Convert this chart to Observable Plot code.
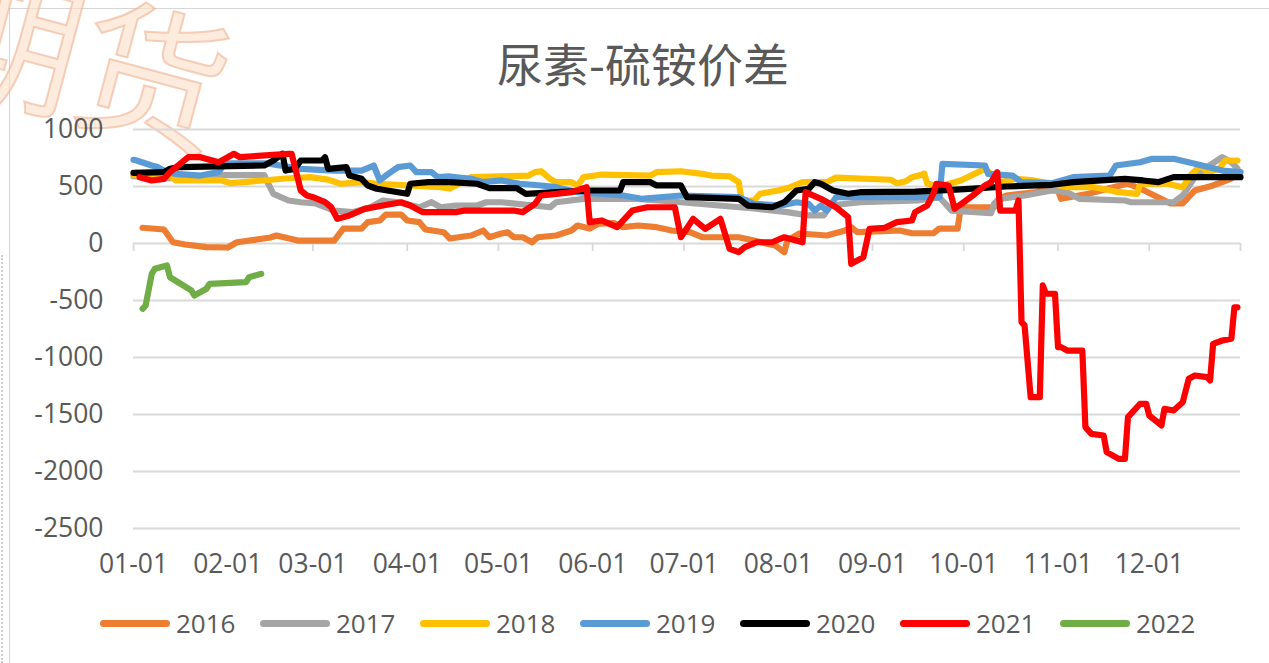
<!DOCTYPE html>
<html><head><meta charset="utf-8">
<script src="https://cdn.jsdelivr.net/npm/d3@7"></script>
<script src="https://cdn.jsdelivr.net/npm/@observablehq/plot@0.6"></script>
<style>
html,body{margin:0;padding:0;background:#fff;}
body{width:1269px;height:663px;position:relative;overflow:hidden;font-family:"Open Sans",sans-serif;color:#595959;}
#frame{position:absolute;left:9px;top:8px;right:-2px;bottom:-2px;border-left:1px solid #d6d6d6;border-top:1px solid #d6d6d6;}
#dots{position:absolute;left:1px;top:255px;bottom:0;border-left:2px dotted #cfcfcf;}
#wm{position:absolute;left:-43px;top:-62px;font:150px/150px "Noto Sans CJK SC";color:rgba(251,222,200,0.6);-webkit-text-stroke:2px rgba(238,178,145,0.6);transform:rotate(15deg);transform-origin:0 0;white-space:nowrap;}
#title{position:absolute;left:0;top:39px;width:1286px;text-align:center;font:46px/46px "Noto Sans CJK SC";color:#595959;}
#chart{position:absolute;left:0;top:110px;}
#legend{position:absolute;left:100px;top:606px;display:flex;font-size:26px;line-height:34px;}
.item{width:160px;display:flex;align-items:center;}
.sw{width:70px;height:7px;border-radius:4px;margin-right:6px;}
</style></head>
<body>
<div id="frame"></div>
<div id="dots"></div>
<div id="wm">期货</div>
<div id="title">尿素-硫铵价差</div>
<div id="chart"></div>
<div id="legend"></div>
<script>
const years = ["2016","2017","2018","2019","2020","2021","2022"];
const colors = ["#ED7D31","#A5A5A5","#FFC000","#5B9BD5","#000000","#FF0000","#70AD47"];
const monthTicks = ["01-01","02-01","03-01","04-01","05-01","06-01","07-01","08-01","09-01","10-01","11-01","12-01"];
const yTicks = [1000,500,0,-500,-1000,-1500,-2000,-2500];

const s2016 = [["01-04",138],["01-11",123],["01-14",11],["01-18",-9],["01-25",-32],["02-01",-35],["02-04",11],["02-15",53],["02-17",70],["02-24",26],["03-08",26],["03-11",131],["03-17",131],["03-19",187],["03-23",202],["03-25",254],["03-30",254],["04-01",202],["04-05",187],["04-07",123],["04-13",99],["04-15",44],["04-22",70],["04-26",114],["04-28",55],["05-02",88],["05-04",99],["05-06",55],["05-09",55],["05-12",11],["05-14",55],["05-20",70],["05-25",114],["05-27",158],["05-31",131],["06-03",175],["06-08",178],["06-11",143],["06-16",158],["06-22",143],["06-27",114],["07-03",99],["07-07",55],["07-19",55],["07-24",26],["07-31",-18],["08-03",-76],["08-04",26],["08-08",88],["08-17",70],["08-23",114],["08-25",143],["08-27",99],["09-10",114],["09-14",90],["09-21",90],["09-23",131],["09-29",131],["09-30",318],["10-11",318],["10-12",377],["10-15",421],["10-25",450],["10-28",494],["11-01",465],["11-02",392],["11-11",436],["11-24",526],["11-28",482],["12-08",351],["12-12",351],["12-16",465],["12-22",509],["12-28",570],["12-30",614]];
const s2017 = [["01-01",590],["01-12",570],["01-31",600],["02-13",600],["02-14",540],["02-16",436],["02-21",377],["02-25",362],["03-02",351],["03-08",289],["03-14",275],["03-20",318],["03-24",377],["03-29",362],["04-05",318],["04-09",362],["04-12",318],["04-17",333],["04-24",333],["04-27",362],["05-02",362],["05-18",318],["05-20",362],["05-29",392],["06-16",392],["06-30",362],["07-24",307],["08-04",275],["08-11",246],["08-16",246],["08-18",333],["08-28",362],["09-16",377],["09-23",406],["09-27",289],["10-10",266],["10-11",351],["10-13",392],["10-21",421],["10-30",465],["11-04",450],["11-08",392],["11-23",377],["11-25",362],["12-09",362],["12-12",421],["12-16",582],["12-20",670],["12-25",757],["12-28",713],["12-30",657]];
const s2018 = [["01-01",600],["01-13",590],["01-15",553],["01-30",553],["02-02",529],["02-07",540],["02-20",570],["02-28",582],["03-06",560],["03-10",524],["03-17",538],["03-22",524],["04-12",494],["04-15",482],["04-22",582],["05-11",596],["05-13",626],["05-15",634],["05-18",567],["05-20",538],["05-25",538],["05-27",509],["05-29",582],["06-04",605],["06-20",596],["06-22",626],["06-30",634],["07-07",611],["07-10",596],["07-16",588],["07-19",538],["07-20",377],["07-24",377],["07-26",436],["08-01",465],["08-05",494],["08-09",538],["08-17",538],["08-20",578],["09-07",559],["09-09",529],["09-12",546],["09-14",582],["09-17",602],["09-18",614],["09-19",526],["09-23",500],["09-30",553],["10-08",655],["10-13",538],["10-18",567],["10-24",553],["10-29",529],["11-04",494],["11-13",494],["11-21",450],["11-27",436],["11-28",524],["12-07",524],["12-12",494],["12-15",611],["12-18",684],["12-20",626],["12-24",655],["12-26",728],["12-30",728]];
const s2019 = [["01-01",734],["01-02",728],["01-07",684],["01-09",670],["01-12",626],["01-15",611],["01-23",596],["01-29",626],["01-31",702],["02-14",702],["02-25",655],["03-08",640],["03-17",640],["03-21",684],["03-23",553],["03-25",596],["03-29",670],["04-02",684],["04-04",626],["04-09",626],["04-11",582],["04-15",588],["04-22",567],["04-26",538],["05-02",553],["05-08",524],["05-15",509],["05-20",494],["05-27",450],["06-11",421],["06-17",392],["06-30",421],["07-19",406],["07-24",348],["08-02",333],["08-07",362],["08-11",348],["08-13",289],["08-15",333],["08-17",289],["08-20",406],["09-10",406],["09-23",406],["09-24",699],["10-08",684],["10-09",611],["10-17",596],["10-20",538],["10-30",529],["11-06",582],["11-18",596],["11-20",684],["11-28",713],["12-02",743],["12-09",743],["12-16",699],["12-25",640],["12-31",626]];
const s2020 = [["01-01",620],["01-11",626],["01-13",655],["01-16",670],["02-13",684],["02-16",728],["02-19",787],["02-20",640],["02-23",655],["02-25",728],["03-04",728],["03-05",757],["03-06",655],["03-12",670],["03-13",596],["03-17",567],["03-19",509],["03-22",480],["03-29",450],["04-01",436],["04-02",524],["04-08",538],["04-15",538],["04-24",524],["04-28",485],["05-07",485],["05-10",436],["05-20",450],["05-31",465],["06-10",465],["06-11",538],["06-20",538],["06-22",509],["06-30",509],["07-02",406],["07-19",392],["07-22",333],["07-30",318],["08-03",362],["08-07",465],["08-11",480],["08-13",538],["08-15",524],["08-19",465],["08-24",436],["08-28",450],["09-15",455],["09-30",475],["10-15",500],["10-30",515],["11-06",538],["11-23",567],["11-29",553],["12-04",538],["12-09",582],["12-31",582]];
const s2021 = [["01-03",582],["01-07",553],["01-11",567],["01-13",626],["01-19",757],["01-23",757],["01-29",713],["02-01",757],["02-03",787],["02-05",757],["02-21",787],["02-22",787],["02-25",465],["02-27",421],["03-01",406],["03-05",362],["03-07",318],["03-09",216],["03-13",246],["03-18",304],["03-24",333],["03-30",362],["04-02",333],["04-06",275],["04-17",275],["04-20",289],["05-06",289],["05-09",275],["05-13",348],["05-15",421],["05-20",436],["05-25",450],["05-30",494],["05-31",187],["06-04",202],["06-09",143],["06-14",289],["06-19",318],["06-28",318],["06-30",55],["07-04",216],["07-08",129],["07-13",216],["07-16",-47],["07-19",-76],["07-21",-32],["07-25",11],["07-30",11],["08-03",55],["08-09",11],["08-10",450],["08-15",392],["08-20",318],["08-24",231],["08-25",-178],["08-29",-120],["08-31",129],["09-05",138],["09-09",187],["09-14",202],["09-15",275],["09-19",333],["09-21",436],["09-22",524],["09-26",509],["09-28",304],["10-04",421],["10-08",509],["10-10",538],["10-12",626],["10-13",289],["10-18",289],["10-19",377],["10-20",-690],["10-21",-719],["10-23",-1348],["10-26",-1348],["10-27",-368],["10-28",-441],["10-31",-441],["11-01",-909],["11-02",-909],["11-04",-939],["11-09",-939],["11-10",-1611],["11-12",-1670],["11-16",-1684],["11-17",-1830],["11-21",-1889],["11-23",-1889],["11-24",-1523],["11-28",-1406],["11-30",-1406],["12-01",-1509],["12-05",-1596],["12-06",-1450],["12-09",-1465],["12-12",-1392],["12-14",-1187],["12-16",-1158],["12-20",-1172],["12-21",-1202],["12-22",-880],["12-25",-851],["12-28",-836],["12-29",-559],["12-30",-559]];
const s2022 = [["01-04",-573],["01-05",-544],["01-07",-266],["01-08",-222],["01-12",-193],["01-13",-296],["01-20",-412],["01-21",-456],["01-25",-397],["01-26",-354],["02-07",-339],["02-08",-296],["02-12",-266]];

const seriesList = [s2016, s2017, s2018, s2019, s2020, s2021, s2022];
const parseMD = s => { const [m, d] = s.split("-").map(Number); return new Date(Date.UTC(2021, m - 1, d)); };

const rows = [];
seriesList.forEach((s, i) => s.forEach(([md, v]) => rows.push({year: years[i], date: parseMD(md), value: v})));

const labelDates = monthTicks.map(parseMD);
const tickDates = labelDates.concat([parseMD("12-31")]);

const chart = Plot.plot({
  width: 1269, height: 480,
  marginLeft: 133, marginRight: 29, marginTop: 19, marginBottom: 62,
  style: {fontFamily: '"Open Sans", sans-serif', fontSize: "26.5px", color: "#595959", background: "transparent", overflow: "visible"},
  x: {type: "utc", domain: [parseMD("01-01"), parseMD("12-31")], label: null},
  y: {domain: [-2500, 1000], label: null},
  color: {domain: years, range: colors},
  marks: [
    Plot.gridY(yTicks, {stroke: "#d9d9d9", strokeOpacity: 1, strokeWidth: 1.8}),
    Plot.ruleX(tickDates, {x: d => d, y1: 0, y2: -70, stroke: "#d9d9d9", strokeWidth: 1.8}),
    Plot.axisY(yTicks, {tickSize: 0, tickPadding: 30, tickFormat: d => String(d), label: null}),
    Plot.axisX(labelDates, {tickSize: 0, tickPadding: 26, tickFormat: d3.utcFormat("%m-%d"), label: null}),
    Plot.line(rows, {x: "date", y: "value", z: "year", stroke: "year", strokeWidth: 6.2, strokeLinejoin: "round", strokeLinecap: "round"})
  ]
});
document.getElementById("chart").appendChild(chart);

const legend = document.getElementById("legend");
years.forEach((y, i) => {
  const it = document.createElement("div"); it.className = "item";
  const sw = document.createElement("div"); sw.className = "sw"; sw.style.background = colors[i];
  const tx = document.createElement("span"); tx.textContent = y;
  it.appendChild(sw); it.appendChild(tx); legend.appendChild(it);
});
</script>
</body></html>
